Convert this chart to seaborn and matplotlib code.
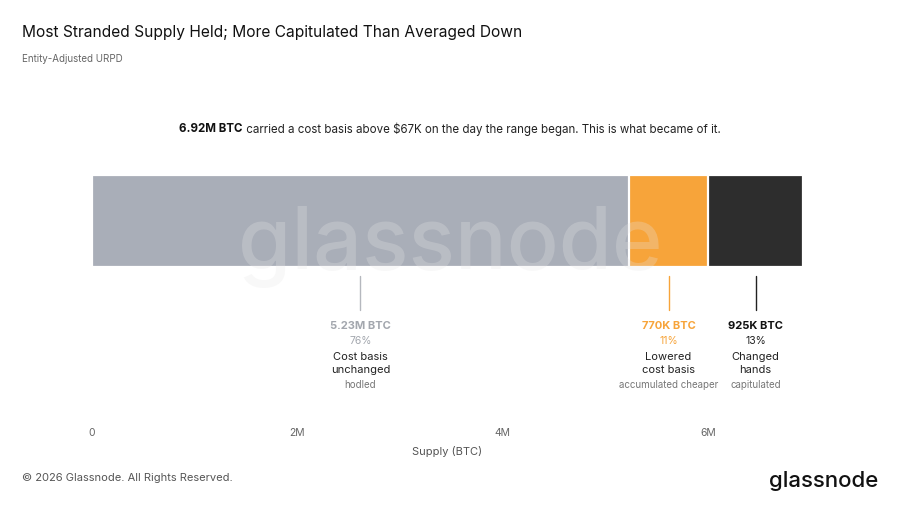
import matplotlib.pyplot as plt
import matplotlib.transforms as mtransforms
import numpy as np
import pandas as pd
import seaborn as sns

# Supply above $67K at range start, split by what happened to it
segments = ["Cost basis unchanged", "Lowered cost basis", "Changed hands"]
supply = [5.23e6, 0.77e6, 0.925e6]
amount_labels = ["5.23M BTC", "770K BTC", "925K BTC"]
pct_labels = ["76%", "11%", "13%"]
desc_labels = ["Cost basis\nunchanged", "Lowered\ncost basis", "Changed\nhands"]
note_labels = ["hodled", "accumulated cheaper", "capitulated"]
colors = ["#a9aeb8", "#f7a43a", "#2d2d2d"]
amount_colors = ["#a3a7ae", "#f7a43a", "#111111"]
pct_colors = ["#a3a7ae", "#f7a43a", "#222222"]
xticks = [0, 2e6, 4e6, 6e6]
xtick_labels = ["0", "2M", "4M", "6M"]

sns.set_theme(style="white")
plt.rcParams["font.family"] = ["Inter", "DejaVu Sans"]

W, H = 900, 506
fig = plt.figure(figsize=(W / 100, H / 100), dpi=100)
fig.patch.set_facecolor("white")

# axes placed in pixel terms: x 92..803, y 170..422
ax = fig.add_axes([92 / W, 1 - 422 / H, (803 - 92) / W, (422 - 170) / H])

cum = np.cumsum(supply)
# stacked bar: draw cumulative totals from longest to shortest
for i in range(len(supply) - 1, -1, -1):
    df = pd.DataFrame({"supply": [cum[i]], "row": ["all"]})
    sns.barplot(data=df, x="supply", y="row", orient="h", color=colors[i],
                width=0.8, edgecolor="white", linewidth=1.6, saturation=1,
                ax=ax, zorder=2)

ax.set_xlim(0, cum[-1])
# bar spans -0.4..0.4; axes top 6px above the bar, bottom 154px below
ax.set_ylim(0.4 + 154 / 115, -0.4 - 6 / 115)
ax.set_xticks(xticks)
ax.set_xticklabels(xtick_labels, fontsize=7.5, color="#666666")
ax.tick_params(axis="x", length=0, pad=4)
ax.set_yticks([])
ax.set_ylabel("")
ax.set_xlabel("Supply (BTC)", fontsize=8, color="#555555", labelpad=6)
for s in ax.spines.values():
    s.set_visible(False)
ax.set_facecolor("white")


def fy(py):
    return 1 - py / H


trans = mtransforms.blended_transform_factory(ax.transData, fig.transFigure)

mids = cum - np.array(supply) / 2
line_colors = ["#b5b8be", "#f7a43a", "#222222"]
for i, m in enumerate(mids):
    ax.plot([m, m], [fy(277), fy(311)], transform=trans, color=line_colors[i],
            lw=1, clip_on=False)
    ax.text(m, fy(326), amount_labels[i], transform=trans, ha="center",
            va="center", fontsize=8, fontweight="bold", color=amount_colors[i])
    ax.text(m, fy(341), pct_labels[i], transform=trans, ha="center",
            va="center", fontsize=7.5, color=pct_colors[i])
    ax.text(m, fy(363.5), desc_labels[i], transform=trans, ha="center",
            va="center", fontsize=8, color="#222222", linespacing=1.45)
    ax.text(m, fy(385), note_labels[i], transform=trans, ha="center",
            va="center", fontsize=7, color="#777777")

# faint watermark over the bar
fig.text(450 / W, fy(247), "glassnode", ha="center", va="center",
         fontsize=62, fontweight="medium", color="#e6e6e6", alpha=0.27, zorder=5)

# titles
fig.text(22 / W, fy(31), "Most Stranded Supply Held; More Capitulated Than Averaged Down",
         ha="left", va="center_baseline", fontsize=11.2, color="#111111")
fig.text(22 / W, fy(59), "Entity-Adjusted URPD", ha="left", va="center",
         fontsize=7, color="#666666")

# headline with bold lead, centred as a whole
renderer = fig.canvas.get_renderer()
bold_part = "6.92M BTC"
rest_part = " carried a cost basis above $67K on the day the range began. This is what became of it."
t1 = fig.text(0, fy(129), bold_part, ha="left", va="center", fontsize=8.3,
              fontweight="bold", color="#111111")
t2 = fig.text(0, fy(129), rest_part, ha="left", va="center", fontsize=8.3,
              color="#222222")
w1 = t1.get_window_extent(renderer).width
w2 = t2.get_window_extent(renderer).width
x0 = 450 - (w1 + w2) / 2
t1.set_x(x0 / W)
t2.set_x((x0 + w1) / W)

# footer
fig.text(22 / W, fy(478), "\u00a9 2026 Glassnode. All Rights Reserved.", ha="left",
         va="center", fontsize=8, color="#555555")
fig.text(878 / W, fy(481), "glassnode", ha="right", va="center", fontsize=16,
         fontweight="medium", color="#111111")

fig.savefig("out.png", dpi=100, facecolor="white")
